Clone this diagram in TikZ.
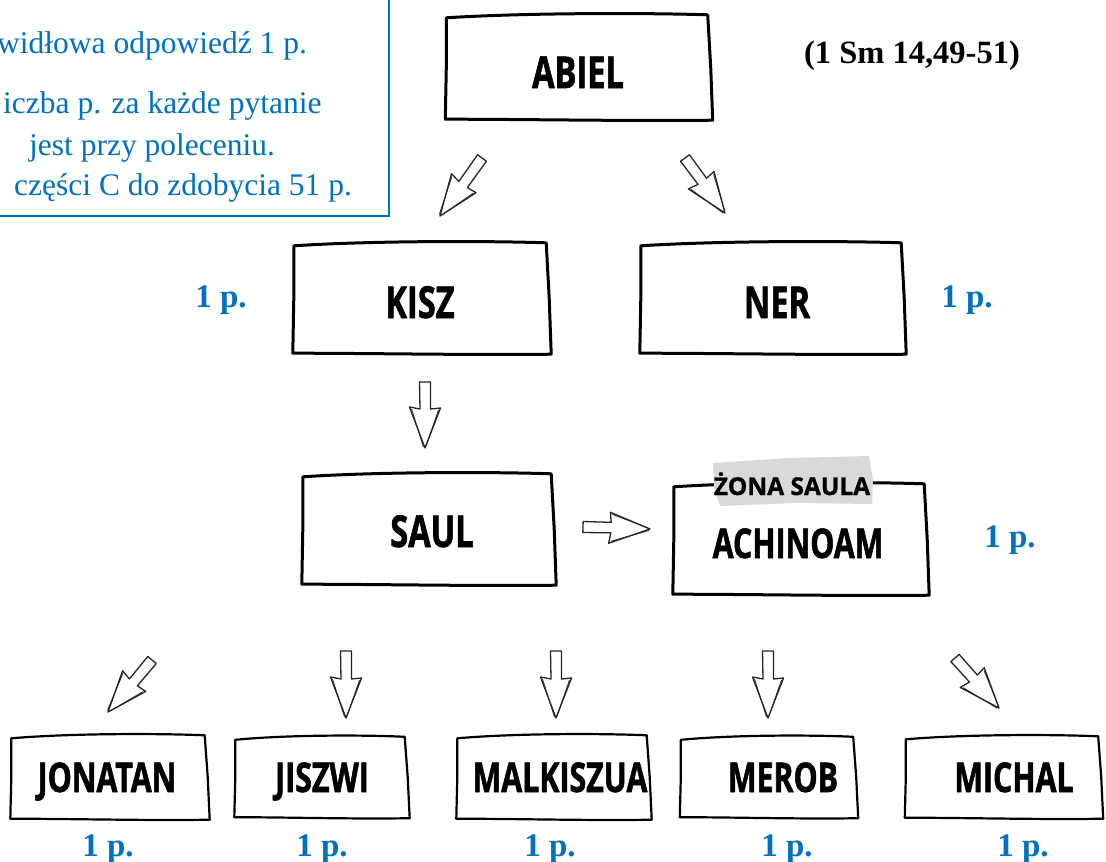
\documentclass[tikz,border=0pt]{standalone}
\usepackage{fontspec}
\setmainfont{Liberation Serif}
\newfontfamily\namefont[FakeStretch=0.74,FakeBold=1.3]{Open Sans}
\newfontfamily\tagfont[FakeBold=1]{Open Sans}
\usetikzlibrary{calc,decorations.markings}
\definecolor{wordblue}{RGB}{0,112,192}
\definecolor{patchgray}{RGB}{217,217,217}
\tikzset{
  boxline/.style={line width=3pt, line join=round, line cap=round, draw=black},
  smallboxline/.style={line width=2.2pt, line join=round, line cap=round, draw=black},
  frame/.style={rectangle, draw=none, inner sep=0pt},
  bigname/.style={font=\namefont\bfseries\fontsize{44}{48}\selectfont, anchor=base, inner sep=0pt},
  smallname/.style={font=\namefont\bfseries\fontsize{41}{45}\selectfont, anchor=base, inner sep=0pt},
  tagtext/.style={font=\tagfont\bfseries\fontsize{24.5}{26}\selectfont, anchor=base, inner sep=0pt},
  points/.style={font=\bfseries\fontsize{33}{36}\selectfont, text=wordblue, anchor=base, inner sep=0pt},
  infotext/.style={font=\fontsize{31.5}{34}\selectfont, text=wordblue, anchor=base west, inner sep=0pt},
  arrowline/.style={draw=black!85, line width=1.3pt, fill=white, line join=round},
  arrowsketch/.style={draw=black!85, line width=0.8pt, line join=round},
  blockarrow/.style={decoration={markings, mark=at position 0 with {
     \draw[arrowline] (0pt,-5.5pt) -- (\pgfdecoratedpathlength-39pt,-5pt)
        -- (\pgfdecoratedpathlength-41pt,-15.5pt) -- (\pgfdecoratedpathlength,0pt)
        -- (\pgfdecoratedpathlength-40pt,15.5pt) -- (\pgfdecoratedpathlength-39pt,5.5pt)
        -- (0pt,5.5pt) -- cycle;
     \draw[arrowsketch] (\pgfdecoratedpathlength-39pt,-13.5pt) -- (\pgfdecoratedpathlength-1pt,-1.5pt);
     \draw[arrowsketch] (\pgfdecoratedpathlength-38pt,13.5pt) -- (\pgfdecoratedpathlength-2pt,1pt);}}, decorate}
}
\newcommand\sketchframe[2]{%
  \draw[#1] ($(#2.north west)+(1,4)$)
    .. controls ($(#2.north west)!0.3!(#2.north east)+(0,-1)$) and ($(#2.north west)!0.75!(#2.north east)+(0,-1)$) .. ($(#2.north east)+(-3,1)$)
    -- ($(#2.east)+(0,0)$) -- ($(#2.south east)+(2,0)$)
    .. controls ($(#2.south east)!0.3!(#2.south west)+(0,1)$) and ($(#2.south east)!0.7!(#2.south west)+(0,-1)$) .. ($(#2.south west)+(0,-1)$)
    -- ($(#2.west)+(1,0)$) -- cycle;}
\begin{document}
\begin{tikzpicture}[x=1pt,y=-1pt]
\useasboundingbox[fill=white] (0,0) rectangle (1106,862);

% info box
\draw[wordblue, line width=2pt] (-5,-5) rectangle (389,216);
\node[infotext] (i1) at (-3,53) {widłowa odpowiedź 1 p.};
\node[infotext] (i2) at (3,113) {iczba p. za każde pytanie};
\node[infotext] (i3) at (29,155) {jest przy poleceniu.};
\node[infotext] (i4) at (14,195) {części C do zdobycia 51 p.};

\node[font=\bfseries\fontsize{32.5}{35}\selectfont, anchor=base, inner sep=0pt] (ref) at (912,63) {(1 Sm 14,49-51)};

% boxes
\node[frame, minimum width=265, minimum height=106] (abiel) at (578,67) {};
\node[frame, minimum width=256, minimum height=112] (kisz) at (421,298) {};
\node[frame, minimum width=264, minimum height=112] (ner) at (772,298) {};
\node[frame, minimum width=252, minimum height=112] (saul) at (428,529) {};
\node[frame, minimum width=254, minimum height=112] (achinoam) at (800,539) {};
\node[frame, minimum width=197, minimum height=85] (jonatan) at (109,777) {};
\node[frame, minimum width=173, minimum height=82] (jiszwi) at (321,777) {};
\node[frame, minimum width=193, minimum height=85] (malkiszua) at (553,777) {};
\node[frame, minimum width=176, minimum height=82] (merob) at (768,777) {};
\node[frame, minimum width=196, minimum height=83] (michal) at (1003,777) {};

\sketchframe{boxline}{abiel}
\sketchframe{boxline}{kisz}
\sketchframe{boxline}{ner}
\sketchframe{boxline}{saul}
\sketchframe{boxline}{achinoam}
\sketchframe{smallboxline}{jonatan}
\sketchframe{smallboxline}{jiszwi}
\sketchframe{smallboxline}{malkiszua}
\sketchframe{smallboxline}{merob}
\sketchframe{smallboxline}{michal}

% names
\node[bigname] (abielT) at (578,88) {ABIEL};
\node[bigname] (kiszT) at (420,318) {KISZ};
\node[bigname] (nerT) at (777,318) {NER};
\node[bigname] (saulT) at (432,547) {SAUL};
\node[smallname] (achinoamT) at (798,558) {ACHINOAM};
\node[smallname] (jonatanT) at (107,792) {JONATAN};
\node[smallname] (jiszwiT) at (322,792) {JISZWI};
\node[smallname] (malkiszuaT) at (560,792) {MALKISZUA};
\node[smallname] (merobT) at (783,792) {MEROB};
\node[smallname] (michalT) at (1014,792) {MICHAL};

% tag
\fill[patchgray] (713,463) -- (790,458) -- (869,456) -- (873,480) -- (872,504) -- (795,503) -- (720,506) -- (714,488) -- cycle;
\node[tagtext] (tag) at (792,495) {ŻONA SAULA};

% points
\node[points] (p1) at (221,307) {1 p.};
\node[points] (p2) at (967,307) {1 p.};
\node[points] (p3) at (1010,547) {1 p.};
\node[points] (p4) at (108,856) {1 p.};
\node[points] (p5) at (322,856) {1 p.};
\node[points] (p6) at (550,856) {1 p.};
\node[points] (p7) at (787,856) {1 p.};
\node[points] (p8) at (1023,856) {1 p.};

% arrows
\coordinate (a1s) at (482,158); \coordinate (a1e) at (440,216);
\coordinate (a2s) at (685,158); \coordinate (a2e) at (725,213);
\coordinate (a3s) at (425,382); \coordinate (a3e) at (425,448);
\coordinate (a4s) at (583,527); \coordinate (a4e) at (650,529);
\coordinate (a5s) at (152,660); \coordinate (a5e) at (108,712);
\coordinate (a6s) at (346,651); \coordinate (a6e) at (346,718);
\coordinate (a7s) at (556,651); \coordinate (a7e) at (556,718);
\coordinate (a8s) at (768,651); \coordinate (a8e) at (768,718);
\coordinate (a9s) at (955,658); \coordinate (a9e) at (999,708);
\foreach \i in {1,...,9} { \path[blockarrow] (a\i s) -- (a\i e); }
\end{tikzpicture}
\end{document}
